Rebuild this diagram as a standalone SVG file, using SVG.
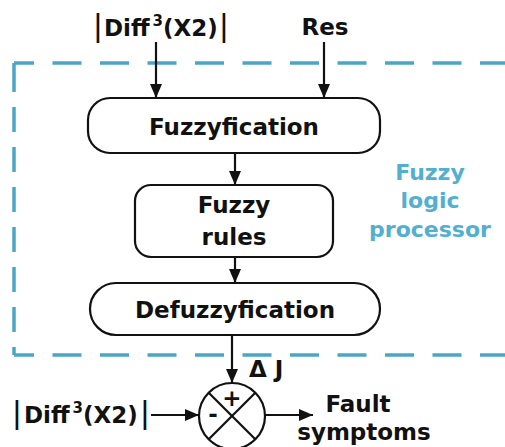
<svg xmlns="http://www.w3.org/2000/svg" width="505" height="447" viewBox="0 0 505 447">
<style>
.t{font-family:"DejaVu Sans",sans-serif;font-weight:bold;font-size:23px;fill:#111}
.bar{font-family:"Liberation Sans",sans-serif;font-weight:normal;font-size:32px;fill:#111}
.blue{font-family:"DejaVu Sans",sans-serif;font-weight:bold;font-size:22px;fill:#52afd0}
.box{fill:#fff;stroke:#111;stroke-width:2.2}
.ln{stroke:#111;stroke-width:2.2;fill:none}
.dash{stroke:#4ba6c6;stroke-width:3.5;fill:none}
</style>
<defs>
<marker id="ah" markerUnits="userSpaceOnUse" markerWidth="14" markerHeight="12" refX="14" refY="6" orient="auto">
<path d="M0,0 L14,6 L0,12 z" fill="#111"/>
</marker>
</defs>
<rect width="505" height="447" fill="#fff"/>

<g id="boundary">
<line class="dash" x1="14" y1="63" x2="510" y2="63" stroke-dasharray="29 18.5" stroke-dashoffset="9"/>
<line class="dash" x1="14" y1="63" x2="14" y2="355" stroke-dasharray="29 15 25 15 25 15 25 15 25 15 25 15 25 15 25"/>
<line class="dash" x1="14" y1="355" x2="510" y2="355" stroke-dasharray="29 18.5" stroke-dashoffset="9"/>
<text class="blue" x="430" y="180" text-anchor="middle">Fuzzy</text>
<text class="blue" x="430" y="208" text-anchor="middle">logic</text>
<text class="blue" x="430" y="237" text-anchor="middle">processor</text>
</g>

<g id="input-top-diff">
<text class="bar" x="98" y="36" text-anchor="middle">|</text>
<text class="t" x="104" y="36" font-size="22">Diff<tspan dx="3" dy="-10" font-size="15">3</tspan><tspan dy="10">(X2)</tspan></text>
<text class="bar" x="224" y="36" text-anchor="middle">|</text>
</g>
<g id="input-res">
<text class="t" x="325" y="35" text-anchor="middle" font-size="22">Res</text>
</g>

<g id="connectors">
<line class="ln" x1="156" y1="42" x2="156" y2="98" marker-end="url(#ah)"/>
<line class="ln" x1="324" y1="42" x2="324" y2="98" marker-end="url(#ah)"/>
<line class="ln" x1="235" y1="153" x2="235" y2="185" marker-end="url(#ah)"/>
<line class="ln" x1="235" y1="257" x2="235" y2="283" marker-end="url(#ah)"/>
<line class="ln" x1="232" y1="335" x2="232" y2="383" marker-end="url(#ah)"/>
<line class="ln" x1="151" y1="415" x2="199" y2="415" marker-end="url(#ah)"/>
<line class="ln" x1="265" y1="415" x2="313" y2="415" marker-end="url(#ah)"/>
</g>

<g id="fuzzyfication">
<rect class="box" x="88" y="98" width="292" height="55" rx="22"/>
<text class="t" x="234" y="135" text-anchor="middle">Fuzzyfication</text>
</g>

<g id="fuzzy-rules">
<rect class="box" x="135" y="185" width="198" height="72" rx="16"/>
<text class="t" x="234" y="213" text-anchor="middle">Fuzzy</text>
<text class="t" x="234" y="245" text-anchor="middle">rules</text>
</g>

<g id="defuzzyfication">
<rect class="box" x="90" y="283" width="290" height="52" rx="26"/>
<text class="t" x="235" y="318" text-anchor="middle">Defuzzyfication</text>
</g>

<g id="delta-j">
<text class="t" x="249" y="377" font-size="17">Δ J</text>
</g>

<g id="summing-junction">
<circle class="ln" cx="232" cy="416" r="33" fill="#fff"/>
<line class="ln" x1="208.7" y1="392.7" x2="255.3" y2="439.3"/>
<line class="ln" x1="255.3" y1="392.7" x2="208.7" y2="439.3"/>
<text class="t" x="232" y="406" font-size="18" text-anchor="middle">+</text>
<text class="t" x="213" y="422" font-size="18" text-anchor="middle">-</text>
</g>

<g id="input-bottom-diff">
<text class="bar" x="17" y="423" text-anchor="middle">|</text>
<text class="t" x="24" y="423" font-size="22">Diff<tspan dx="3" dy="-10" font-size="15">3</tspan><tspan dy="10">(X2)</tspan></text>
<text class="bar" x="145" y="423" text-anchor="middle">|</text>
</g>

<g id="output">
<text class="t" x="358" y="412" text-anchor="middle" font-size="22">Fault</text>
<text class="t" x="364" y="440" text-anchor="middle" font-size="22">symptoms</text>
</g>
</svg>
